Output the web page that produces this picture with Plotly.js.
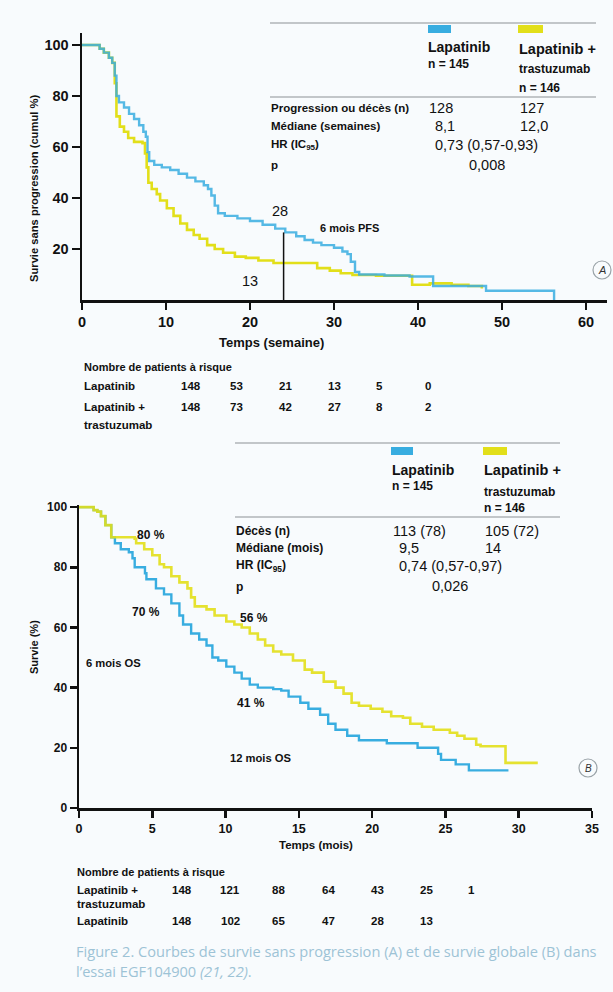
<!DOCTYPE html>
<html>
<head>
<meta charset="utf-8">
<script src="https://cdn.plot.ly/plotly-3.0.1.min.js"></script>
<style>
html,body{margin:0;padding:0;background:#f8fbfd;}
#chart{width:613px;height:992px;}
</style>
</head>
<body>
<div id="chart"></div>
<script>
// ---------- DATA ----------
// Panel A: progression-free survival (weeks, %)
const pfsLapWeeks = [0, 2.1, 2.6, 3.2, 3.6, 3.9, 4.1, 4.4, 5.0, 5.6, 6.2, 6.8, 7.3, 7.6, 7.8, 8.0, 8.6, 9.5, 10.5, 11.5, 12.5, 13.5, 14.5, 15.0, 15.4, 15.8, 16.2, 17.0, 18.5, 20.0, 21.5, 23.0, 24.2, 25.5, 26.5, 27.5, 28.5, 30.0, 31.0, 31.6, 32.0, 32.5, 33.0, 36.0, 39.0, 41.8, 48.1, 56.2];
const pfsLapSurv  = [100, 98.5, 97, 95, 93, 88, 80, 77.5, 75.5, 73, 71, 68.5, 66, 64, 58, 54.5, 53, 52, 51, 49.5, 48, 46.5, 45, 43.5, 41, 37, 34, 33, 32, 31, 29.5, 28, 26.5, 25, 23.5, 22.5, 21.5, 20.5, 19, 18, 15, 11, 10, 9.6, 9.2, 5.5, 3.6, 0];
const pfsCombWeeks = [0, 2.1, 2.6, 3.2, 3.6, 3.9, 4.1, 4.5, 5.0, 5.5, 6.2, 7.2, 7.5, 7.7, 7.9, 8.3, 8.9, 9.3, 10.1, 10.9, 11.7, 12.5, 13.3, 14.0, 14.9, 15.8, 16.8, 18.2, 19.5, 21.0, 22.8, 28.0, 29.5, 30.8, 32.2, 35.0, 39.3, 41.4, 44.0, 46.0, 47.6];
const pfsCombSurv  = [100, 98.5, 97, 95, 93, 85, 72, 68, 66, 63.5, 62, 61.5, 57.5, 52, 46, 43.5, 41.5, 39, 36, 33, 30, 27.5, 25.5, 24, 21.5, 20, 18.5, 17, 16.5, 15.5, 14.5, 12.5, 11.5, 10.5, 9.8, 9.5, 6, 6.5, 6, 5.5, 4.5];

// Panel B: overall survival (months, %)
const osLapMonths = [0, 1.0, 1.25, 1.5, 1.8, 2.2, 2.45, 2.85, 3.4, 3.65, 3.8, 4.5, 4.6, 5.25, 5.8, 6.3, 6.85, 7.1, 7.65, 8.2, 8.7, 9.1, 9.5, 10.05, 10.6, 11.1, 11.65, 12.2, 13.25, 13.8, 14.3, 15.1, 15.65, 16.45, 17.0, 17.5, 18.3, 19.1, 21.0, 23.1, 24.5, 24.7, 25.7, 26.6, 29.3];
const osLapSurv   = [100, 99, 98.5, 97, 94, 90, 88, 86, 85, 83, 80, 78, 76, 73, 71, 68, 64, 61, 58, 56, 54, 50, 49, 47, 45, 43, 41, 40, 39.5, 39, 37, 35, 33, 31, 28, 26, 24, 22.5, 21.5, 20, 18, 16, 14.5, 12.5, 12.5];
const osCombMonths = [0, 1.0, 1.25, 1.5, 1.8, 2.2, 3.8, 3.9, 4.45, 5.0, 5.5, 5.8, 6.3, 6.85, 7.4, 7.65, 7.9, 8.7, 9.25, 10.05, 10.6, 11.1, 11.65, 12.2, 12.7, 13.25, 13.8, 14.6, 15.4, 15.9, 16.7, 17.5, 18.05, 18.6, 19.1, 19.9, 20.7, 21.3, 22.1, 22.6, 23.4, 24.2, 25.3, 25.8, 26.3, 27.1, 27.4, 29.1, 31.3];
const osCombSurv   = [100, 99, 98.5, 97, 94, 90, 89.5, 88, 86, 84, 81, 80, 77, 75, 73, 70, 67, 66, 64, 62, 61, 60, 58, 56, 54, 52, 51, 49, 46, 45, 42, 40, 38, 35, 34, 33, 32, 30.5, 30, 28, 27, 26, 25, 24, 23, 21, 20.5, 15, 15];

// Ticks
const xTicksA = [0, 10, 20, 30, 40, 50, 60];
const yTicksA = [20, 40, 60, 80, 100];
const xTicksB = [0, 5, 10, 15, 20, 25, 30, 35];
const yTicksB = [0, 20, 40, 60, 80, 100];

// Numbers at risk
const riskA_Lap  = [148, 53, 21, 13, 5, 0];
const riskA_Comb = [148, 73, 42, 27, 8, 2];
const riskB_Comb = [148, 121, 88, 64, 43, 25, 1];
const riskB_Lap  = [148, 102, 65, 47, 28, 13];

// Landmarks
const pfs6mWeek = 24;
const pfs6mLapValue = 26.5;

// ---------- STYLE / LAYOUT ----------
const W = 613, H = 992;
const BLUE = '#38ade0', YELLOW = '#e2df1a';
const SANS = '"Liberation Sans", Arial, sans-serif';
const px = v => v / W;
const py = v => 1 - v / H;

function ann(text, x, y, o) {
  o = o || {};
  return {
    text: text, x: px(x), y: py(y), xref: 'paper', yref: 'paper',
    xanchor: o.xa || 'left', yanchor: 'middle', showarrow: false,
    textangle: o.angle || 0,
    font: {family: o.family || SANS, size: o.size || 11.5, color: o.color || '#111'}
  };
}
const B = t => '<b>' + t + '</b>';

const annotations = [];
const shapes = [];

// Panel A header table
shapes.push({type:'line', xref:'paper', yref:'paper', x0:px(270), x1:px(596), y0:py(23), y1:py(23), line:{color:'#8c9196', width:1.2}});
shapes.push({type:'line', xref:'paper', yref:'paper', x0:px(270), x1:px(596), y0:py(97), y1:py(97), line:{color:'#8c9196', width:1.2}});
shapes.push({type:'rect', xref:'paper', yref:'paper', x0:px(428), x1:px(451), y0:py(25), y1:py(33), fillcolor:BLUE, line:{width:0}});
shapes.push({type:'rect', xref:'paper', yref:'paper', x0:px(518), x1:px(543), y0:py(25), y1:py(33), fillcolor:YELLOW, line:{width:0}});
annotations.push(ann(B('Lapatinib'), 426, 47, {size:14}));
annotations.push(ann(B('n = 145'), 426, 64, {size:12}));
annotations.push(ann(B('Lapatinib +'), 517, 49, {size:14.5}));
annotations.push(ann(B('trastuzumab'), 517, 69, {size:12}));
annotations.push(ann(B('n = 146'), 517, 88, {size:12}));
annotations.push(ann(B('Progression ou décès (n)'), 269, 108));
annotations.push(ann(B('Médiane (semaines)'), 269, 126));
annotations.push(ann(B('HR (IC<sub>95</sub>)'), 269, 145));
annotations.push(ann(B('p'), 269, 165));
annotations.push(ann('128', 427, 108, {size:14.5}));
annotations.push(ann('127', 518, 108, {size:14.5}));
annotations.push(ann('8,1', 433, 126, {size:14.5}));
annotations.push(ann('12,0', 518, 126, {size:14.5}));
annotations.push(ann('0,73 (0,57-0,93)', 433, 145, {size:14.5}));
annotations.push(ann('0,008', 467, 165, {size:14.5}));

// Panel A in-plot labels
annotations.push(ann('28', 280, 211, {size:14.5, xa:'center'}));
annotations.push(ann(B('6 mois PFS'), 349, 228, {size:11, xa:'center'}));
annotations.push(ann('13', 250, 281, {size:14.5, xa:'center'}));
shapes.push({type:'line', xref:'x', yref:'y', x0:pfs6mWeek, x1:pfs6mWeek, y0:0, y1:pfs6mLapValue, line:{color:'#111', width:1.5}});
shapes.push({type:'circle', xref:'paper', yref:'paper', x0:px(593), x1:px(611), y0:py(261), y1:py(279), line:{color:'#9aa3a8', width:1.2}, fillcolor:'rgba(0,0,0,0)'});
annotations.push(ann('<i>A</i>', 602, 270, {size:11, xa:'center', color:'#333'}));

// Panel A axis titles
annotations.push(ann(B('Survie sans progression (cumul %)'), 34, 189, {size:11.2, xa:'center', angle:-90}));
annotations.push(ann(B('Temps (semaine)'), 271, 343, {size:13, xa:'center'}));

// Panel A numbers at risk
const riskColsA = [191, 236, 285, 334, 379, 428];
annotations.push(ann(B('Nombre de patients à risque'), 82, 367, {size:11}));
annotations.push(ann(B('Lapatinib'), 82, 386));
annotations.push(ann(B('Lapatinib +'), 82, 407));
annotations.push(ann(B('trastuzumab'), 82, 425));
riskA_Lap.forEach((v, i) => annotations.push(ann(B(String(v)), riskColsA[i], 386, {xa:'center'})));
riskA_Comb.forEach((v, i) => annotations.push(ann(B(String(v)), riskColsA[i], 407, {xa:'center'})));

// Panel B header table
shapes.push({type:'line', xref:'paper', yref:'paper', x0:px(235), x1:px(560), y0:py(443), y1:py(443), line:{color:'#8c9196', width:1.2}});
shapes.push({type:'line', xref:'paper', yref:'paper', x0:px(235), x1:px(560), y0:py(517), y1:py(517), line:{color:'#8c9196', width:1.2}});
shapes.push({type:'rect', xref:'paper', yref:'paper', x0:px(391), x1:px(413), y0:py(447), y1:py(455), fillcolor:BLUE, line:{width:0}});
shapes.push({type:'rect', xref:'paper', yref:'paper', x0:px(483), x1:px(507), y0:py(447), y1:py(455), fillcolor:YELLOW, line:{width:0}});
annotations.push(ann(B('Lapatinib'), 390, 470, {size:14}));
annotations.push(ann(B('n = 145'), 390, 486, {size:12}));
annotations.push(ann(B('Lapatinib +'), 482, 470, {size:14.5}));
annotations.push(ann(B('trastuzumab'), 482, 492, {size:12}));
annotations.push(ann(B('n = 146'), 482, 508, {size:12}));
annotations.push(ann(B('Décès (n)'), 234, 531, {size:12}));
annotations.push(ann(B('Médiane (mois)'), 234, 548, {size:12}));
annotations.push(ann(B('HR (IC<sub>95</sub>)'), 234, 566, {size:12}));
annotations.push(ann(B('p'), 234, 587, {size:12}));
annotations.push(ann('113 (78)', 391, 531, {size:14.5}));
annotations.push(ann('105 (72)', 483, 531, {size:14.5}));
annotations.push(ann('9,5', 397, 548, {size:14.5}));
annotations.push(ann('14', 483, 548, {size:14.5}));
annotations.push(ann('0,74 (0,57-0,97)', 397, 566, {size:14.5}));
annotations.push(ann('0,026', 430, 586, {size:14.5}));

// Panel B in-plot labels
annotations.push(ann(B('80 %'), 151, 535, {xa:'center', size:12}));
annotations.push(ann(B('70 %'), 146, 612, {xa:'center', size:12}));
annotations.push(ann(B('6 mois OS'), 113, 663, {xa:'center', size:11.2}));
annotations.push(ann(B('56 %'), 254, 618, {xa:'center', size:12}));
annotations.push(ann(B('41 %'), 251, 703, {xa:'center', size:12}));
annotations.push(ann(B('12 mois OS'), 260, 758, {xa:'center', size:11.2}));
shapes.push({type:'circle', xref:'paper', yref:'paper', x0:px(579), x1:px(597), y0:py(759), y1:py(777), line:{color:'#9aa3a8', width:1.2}, fillcolor:'rgba(0,0,0,0)'});
annotations.push(ann('<i>B</i>', 588, 768, {size:10, xa:'center', color:'#333'}));

// Panel B axis titles
annotations.push(ann(B('Survie (%)'), 34, 647, {size:11, xa:'center', angle:-90}));
annotations.push(ann(B('Temps (mois)'), 316, 845, {size:11.5, xa:'center'}));

// Panel B numbers at risk
const riskColsB = [182, 230, 278, 328, 378, 426, 471];
annotations.push(ann(B('Nombre de patients à risque'), 75, 872, {size:11}));
annotations.push(ann(B('Lapatinib +'), 75, 890));
annotations.push(ann(B('trastuzumab'), 75, 904));
annotations.push(ann(B('Lapatinib'), 75, 921));
riskB_Comb.forEach((v, i) => annotations.push(ann(B(String(v)), riskColsB[i], 890, {xa:'center'})));
riskB_Lap.forEach((v, i) => annotations.push(ann(B(String(v)), riskColsB[i], 921, {xa:'center'})));

// Caption
const CAP = {family:'"Open Sans", "Noto Sans", sans-serif', size:14.6, color:'#9dc3d6'};
annotations.push(ann('Figure 2. Courbes de survie sans progression (A) et de survie globale (B) dans', 74, 951, CAP));
annotations.push(ann('l’essai EGF104900 <i>(21, 22)</i>.', 74, 971, CAP));

// ---------- TRACES ----------
const traces = [
  {x: pfsCombWeeks, y: pfsCombSurv, xaxis:'x', yaxis:'y', type:'scatter', mode:'lines', line:{shape:'hv', color:YELLOW, width:2.6}, name:'Lapatinib + trastuzumab'},
  {x: pfsLapWeeks, y: pfsLapSurv, xaxis:'x', yaxis:'y', type:'scatter', mode:'lines', line:{shape:'hv', color:BLUE, width:2.4}, opacity:0.85, name:'Lapatinib'},
  {x: osLapMonths, y: osLapSurv, xaxis:'x2', yaxis:'y2', type:'scatter', mode:'lines', line:{shape:'hv', color:BLUE, width:2.4}, name:'Lapatinib'},
  {x: osCombMonths, y: osCombSurv, xaxis:'x2', yaxis:'y2', type:'scatter', mode:'lines', line:{shape:'hv', color:YELLOW, width:2.6}, opacity:0.9, name:'Lapatinib + trastuzumab'}
];

const axBase = {showgrid:false, zeroline:false, showline:true, linecolor:'#111', linewidth:2.5,
  ticks:'outside', tickcolor:'#111', tickwidth:2.5, fixedrange:true};

const layout = {
  width: W, height: H,
  margin: {l:0, r:0, t:0, b:0},
  paper_bgcolor: '#f8fbfd', plot_bgcolor: 'rgba(0,0,0,0)',
  showlegend: false,
  xaxis: Object.assign({}, axBase, {domain:[px(82), px(607)], range:[0, 62.5], anchor:'y',
    tickvals: xTicksA, ticktext: xTicksA.map(String), ticklen:7,
    tickfont:{family:SANS, size:14.5, color:'#111', weight:'bold'}}),
  yaxis: Object.assign({}, axBase, {domain:[py(300), py(33)], range:[0, 104.7], anchor:'x',
    tickvals: yTicksA, ticktext: yTicksA.map(String), ticklen:8,
    tickfont:{family:SANS, size:14.5, color:'#111', weight:'bold'}}),
  xaxis2: Object.assign({}, axBase, {domain:[px(79), px(592)], range:[0, 35], anchor:'y2',
    tickvals: xTicksB, ticktext: xTicksB.map(String), ticklen:7,
    tickfont:{family:SANS, size:12.5, color:'#111', weight:'bold'}}),
  yaxis2: Object.assign({}, axBase, {domain:[py(808), py(505)], range:[0, 100.7], anchor:'x2',
    tickvals: yTicksB, ticktext: yTicksB.map(String), ticklen:7,
    tickfont:{family:SANS, size:12, color:'#111', weight:'bold'}}),
  annotations: annotations,
  shapes: shapes
};

Plotly.newPlot('chart', traces, layout, {displayModeBar:false, staticPlot:true});
</script>
</body>
</html>
